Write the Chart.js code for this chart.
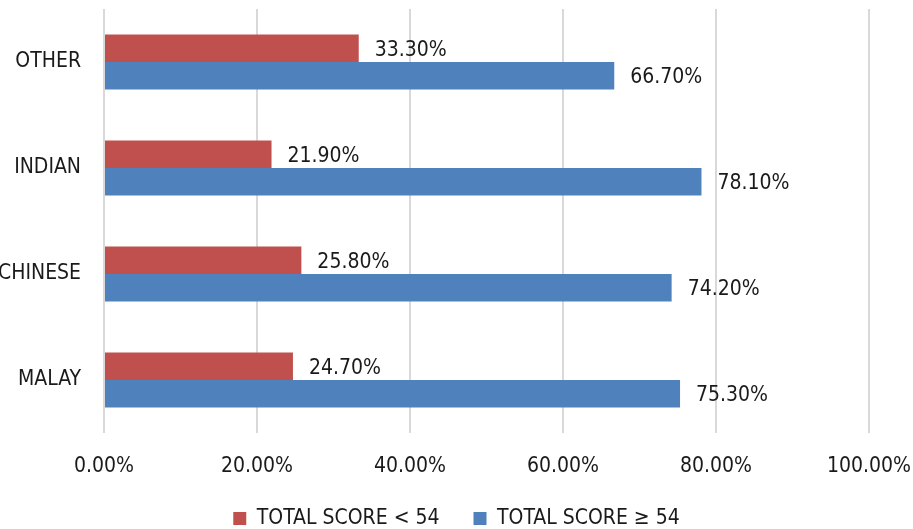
<!DOCTYPE html>
<html>
<head>
<meta charset="utf-8">
<script src="https://cdn.jsdelivr.net/npm/chart.js@4/dist/chart.umd.min.js"></script>
<style>
  html, body { margin: 0; padding: 0; background: #fff; }
  #wrap { width: 913px; height: 529px; position: relative; }
</style>
</head>
<body>
<div id="wrap"><canvas id="chart"></canvas></div>
<script>
// chart data
const categories = ['OTHER', 'INDIAN', 'CHINESE', 'MALAY'];
const seriesNames = ['TOTAL SCORE < 54', 'TOTAL SCORE \u2265 54'];
const belowScore = [33.3, 21.9, 25.8, 24.7];
const aboveScore = [66.7, 78.1, 74.2, 75.3];
const xTicks = [0, 20, 40, 60, 80, 100];

const FONT = "'Liberation Sans Narrow', 'DejaVu Sans Condensed', 'Liberation Sans', sans-serif";

// draws the percentage next to the end of each bar
const barLabels = {
  id: 'barLabels',
  afterDatasetsDraw(chart) {
    const ctx = chart.ctx;
    ctx.save();
    ctx.font = '21px ' + FONT;
    ctx.fillStyle = '#1a1a1a';
    ctx.textAlign = 'left';
    ctx.textBaseline = 'middle';
    chart.data.datasets.forEach((ds, i) => {
      const meta = chart.getDatasetMeta(i);
      meta.data.forEach((bar, j) => {
        ctx.fillText(ds.data[j].toFixed(2) + '%', bar.x + 16, bar.y + 2);
      });
    });
    ctx.restore();
  }
};

new Chart(document.getElementById('chart'), {
  type: 'bar',
  data: {
    labels: categories,
    datasets: [
      { label: seriesNames[0], data: belowScore, backgroundColor: '#C0504D' },
      { label: seriesNames[1], data: aboveScore, backgroundColor: '#4F81BD' }
    ]
  },
  options: {
    indexAxis: 'y',
    responsive: true,
    maintainAspectRatio: false,
    animation: false,
    categoryPercentage: 0.52,
    barPercentage: 1.0,
    // negative bottom lets the legend sit low like the original
    layout: { padding: { top: 9, right: 0, left: 0, bottom: -10 } },
    scales: {
      x: {
        min: 0,
        max: 100,
        afterBuildTicks(scale) { scale.ticks = xTicks.map(v => ({ value: v })); },
        afterFit(scale) {
          scale.height = 41;
          scale.paddingRight = 44;
          scale.paddingLeft = 0;
        },
        border: { display: false },
        grid: { color: '#d9d9d9', lineWidth: 2, drawTicks: false },
        ticks: {
          padding: 21,
          color: '#1a1a1a',
          font: { family: FONT, size: 21 },
          callback: v => v.toFixed(2) + '%'
        }
      },
      y: {
        afterFit(scale) {
          scale.width = 104;
          scale.paddingTop = 0;
          scale.paddingBottom = 0;
        },
        border: { display: false },
        grid: { display: false },
        ticks: {
          padding: 15,
          color: '#1a1a1a',
          font: { family: FONT, size: 21 }
        }
      }
    },
    plugins: {
      legend: {
        position: 'bottom',
        labels: {
          boxWidth: 13,
          boxHeight: 13,
          padding: 34,
          color: '#1a1a1a',
          font: { family: FONT, size: 21 }
        }
      },
      tooltip: { enabled: false }
    }
  },
  plugins: [barLabels]
});
</script>
</body>
</html>
